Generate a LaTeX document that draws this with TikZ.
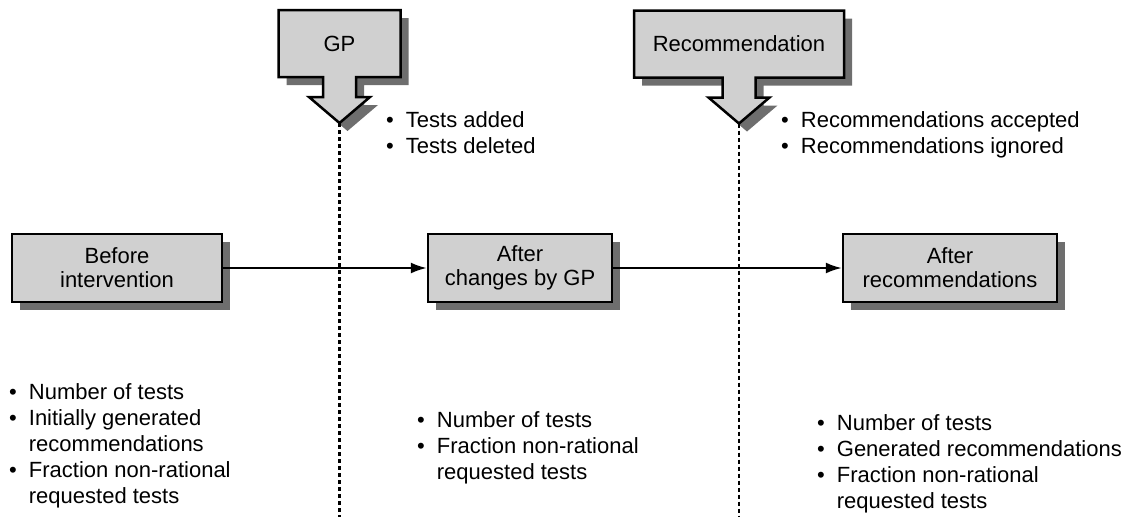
\documentclass[tikz,border=0pt]{standalone}
\usepackage{fontspec}
\setmainfont{Liberation Sans}
\usepackage{tikz}
\usetikzlibrary{calc}
\usetikzlibrary{arrows.meta}
\usetikzlibrary{shadows}
\usetikzlibrary{backgrounds}

\definecolor{boxfill}{RGB}{208,208,208}
\definecolor{boxshade}{RGB}{110,110,110}
\newcommand{\notefont}{\fontsize{22}{26}\selectfont}
\newcommand{\boxfont}{\fontsize{22}{24}\selectfont}

\tikzset{%
  boxshadow/.style={drop shadow={shadow xshift=8pt,shadow yshift=-8pt,opacity=1,fill=boxshade}},%
  stage/.style={draw,line width=2.5pt,fill=boxfill,boxshadow,minimum height=68pt,align=center,font=\boxfont},%
  arrowlabel/.style={inner sep=0pt,outer sep=0pt,minimum height=67pt,font=\boxfont},%
  arrowbox/.style={draw,line width=2.5pt,fill=boxfill,line join=miter,boxshadow},%
  flow/.style={line width=2pt,-{Latex[length=16pt,width=11pt]}},%
  divider/.style={line width=2.2pt,dash pattern=on 4pt off 3pt},%
  notes/.style={anchor=north west,inner sep=0pt,font=\notefont},%
}

% down-pointing block arrow behind a label node, tip named <node>-tip
\newcommand{\downarrowbox}[1]{%
\begin{pgfonlayer}{background}%
\draw[arrowbox] (#1.north west) -- (#1.north east) -- (#1.south east) -- ($(#1.south)+(16.5,0)$) -- ++(0,20) -- ++(14,0) -- ++(-30.5,26) coordinate (#1-tip) -- ++(-30.5,-26) -- ++(14,0) -- ++(0,-20) -- (#1.south west) -- cycle;%
\end{pgfonlayer}}

\begin{document}
\begin{tikzpicture}[x=1pt,y=-1pt]%
\useasboundingbox (0,0) rectangle (1140,517);%
\coordinate (floor) at (0,517);%
% the three stages
\node[stage,minimum width=210pt] (before) at (117,268) {Before\\intervention};%
\node[stage,minimum width=184pt] (changed) at (520,268) {After\\changes by GP};%
\node[stage,minimum width=214pt] (recs) at (950,268) {After\\recommendations};%
\draw[flow] (before) -- (changed);%
\draw[flow] (changed) -- (recs);%
% interventions from above
\node[arrowlabel,minimum width=122pt] (gp) at (339.5,43.5) {GP};%
\downarrowbox{gp}%
\node[arrowlabel,minimum width=210pt] (rec) at (739,44) {Recommendation};%
\downarrowbox{rec}%
\draw[divider] (gp-tip) -- (gp-tip |- floor);%
\draw[divider] (rec-tip) -- (rec-tip |- floor);%
% measured quantities
\node[notes] (gpnotes) at (386,108.8) {\begin{tabular}{@{}l@{\hspace{12pt}}l@{}}\textbullet & Tests added\\ \textbullet & Tests deleted\end{tabular}};%
\node[notes] (recnotes) at (781,108.8) {\begin{tabular}{@{}l@{\hspace{12pt}}l@{}}\textbullet & Recommendations accepted\\ \textbullet & Recommendations ignored\end{tabular}};%
\node[notes] (beforenotes) at (9,380.8) {\begin{tabular}{@{}l@{\hspace{12pt}}l@{}}\textbullet & Number of tests\\ \textbullet & Initially generated\\ & recommendations\\ \textbullet & Fraction non-rational\\ & requested tests\end{tabular}};%
\node[notes] (changednotes) at (417,408.8) {\begin{tabular}{@{}l@{\hspace{12pt}}l@{}}\textbullet & Number of tests\\ \textbullet & Fraction non-rational\\ & requested tests\end{tabular}};%
\node[notes] (recsnotes) at (817,411.8) {\begin{tabular}{@{}l@{\hspace{12pt}}l@{}}\textbullet & Number of tests\\ \textbullet & Generated recommendations\\ \textbullet & Fraction non-rational\\ & requested tests\end{tabular}};%
\end{tikzpicture}
\end{document}
